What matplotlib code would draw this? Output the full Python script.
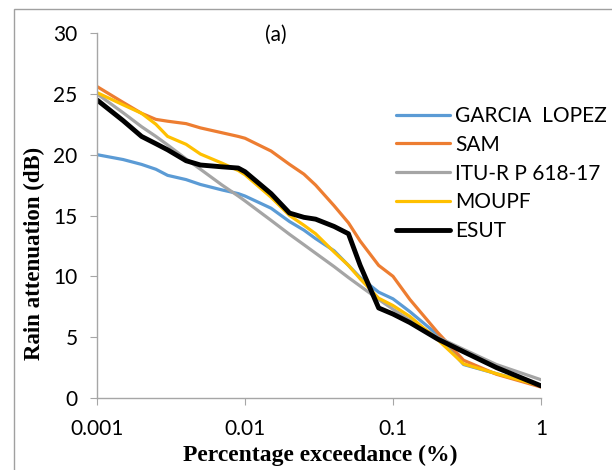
import matplotlib.pyplot as plt
from matplotlib.patches import Rectangle

# percentage exceedance (%)
pct = [0.001, 0.0015, 0.002, 0.0025, 0.003, 0.004, 0.005, 0.007, 0.009, 0.01,
       0.015, 0.02, 0.025, 0.03, 0.04, 0.05, 0.06, 0.08, 0.1, 0.13, 0.2,
       0.3, 0.5, 1]

garcia = [20.0, 19.6, 19.2, 18.8, 18.3, 17.95, 17.55, 17.1, 16.8, 16.6,
          15.6, 14.5, 13.8, 13.1, 12.1, 10.9, 9.9, 8.7, 8.15, 7.1, 5.2,
          2.75, 2.0, 1.0]
sam = [25.6, 24.3, 23.4, 22.9, 22.75, 22.55, 22.2, 21.8, 21.5, 21.35,
       20.3, 19.2, 18.4, 17.5, 15.8, 14.4, 12.9, 10.9, 10.0, 8.1, 5.4,
       3.1, 1.95, 0.9]
itu = [25.0, 23.45, 22.3, 21.5, 20.8, 19.65, 18.8, 17.5, 16.6, 16.2,
       14.6, 13.45, 12.6, 11.9, 10.8, 9.9, 9.2, 8.1, 7.3, 6.4, 5.0,
       4.0, 2.75, 1.5]
moupf = [25.1, 24.1, 23.4, 22.5, 21.5, 20.85, 20.05, 19.3, 18.7, 18.35,
         16.5, 15.0, 14.2, 13.5, 12.0, 10.9, 9.8, 8.2, 7.6, 6.7, 4.8,
         2.8, 2.0, 1.0]
esut = [24.5, 22.8, 21.5, 20.9, 20.4, 19.5, 19.15, 19.0, 18.9, 18.6,
        16.8, 15.2, 14.85, 14.7, 14.1, 13.5, 10.9, 7.4, 6.9, 6.2, 4.85,
        3.8, 2.5, 1.0]

series = [
    ('GARCIA  LOPEZ', garcia, '#5B9BD5', 2.3),
    ('SAM', sam, '#ED7D31', 2.3),
    ('ITU-R P 618-17', itu, '#A5A5A5', 2.3),
    ('MOUPF', moupf, '#FFC000', 2.3),
    ('ESUT', esut, '#000000', 3.5),
]

plt.rcParams['font.family'] = ['Lato', 'DejaVu Sans']

fig = plt.figure(figsize=(6.12, 4.7), dpi=100)
ax = fig.add_axes([97 / 612, 72 / 470, 444 / 612, 365 / 470])

for name, vals, col, lw in series:
    ax.plot(pct, vals, color=col, linewidth=lw, label=name,
            solid_capstyle='round', solid_joinstyle='round')

ax.set_xscale('log')
ax.set_xlim(0.001, 1)
ax.set_ylim(0, 30)
ax.set_xticks([0.001, 0.01, 0.1, 1])
ax.set_xticklabels(['0.001', '0.01', '0.1', '1'])
ax.minorticks_off()
ax.set_yticks(range(0, 31, 5))

for s in ['top', 'right']:
    ax.spines[s].set_visible(False)
for s in ['left', 'bottom']:
    ax.spines[s].set_color('#A6A6A6')
    ax.spines[s].set_linewidth(1.0)

ax.tick_params(axis='x', length=5, color='#A6A6A6', labelsize=15, pad=10)
ax.tick_params(axis='y', length=5, color='#A6A6A6', labelsize=15, pad=9)

ax.set_xlabel('Percentage exceedance (%)', family='Liberation Serif',
              fontweight='bold', fontsize=17)
ax.set_ylabel('Rain attenuation (dB)', family='Liberation Serif',
              fontweight='bold', fontsize=16.5)
ax.xaxis.set_label_coords(0.502, -0.128)
ax.yaxis.set_label_coords(-0.118, 0.395)

fig.text(276 / 612, 1 - 35 / 470, '(a)', ha='center', va='center', fontsize=15)

fig.legend(loc='upper left', bbox_to_anchor=(396 / 612, 1 - 106 / 470),
           frameon=False, fontsize=15, handlelength=2.6, handletextpad=0.25,
           labelspacing=0.42, borderpad=0, borderaxespad=0)

# chart area border
fig.patches.append(Rectangle((14 / 612, -0.1), 1.0, 1.1 - 9 / 470,
                             transform=fig.transFigure, fill=False,
                             edgecolor='#A0A0A0', linewidth=1.0))

fig.savefig('out.png', dpi=100)
